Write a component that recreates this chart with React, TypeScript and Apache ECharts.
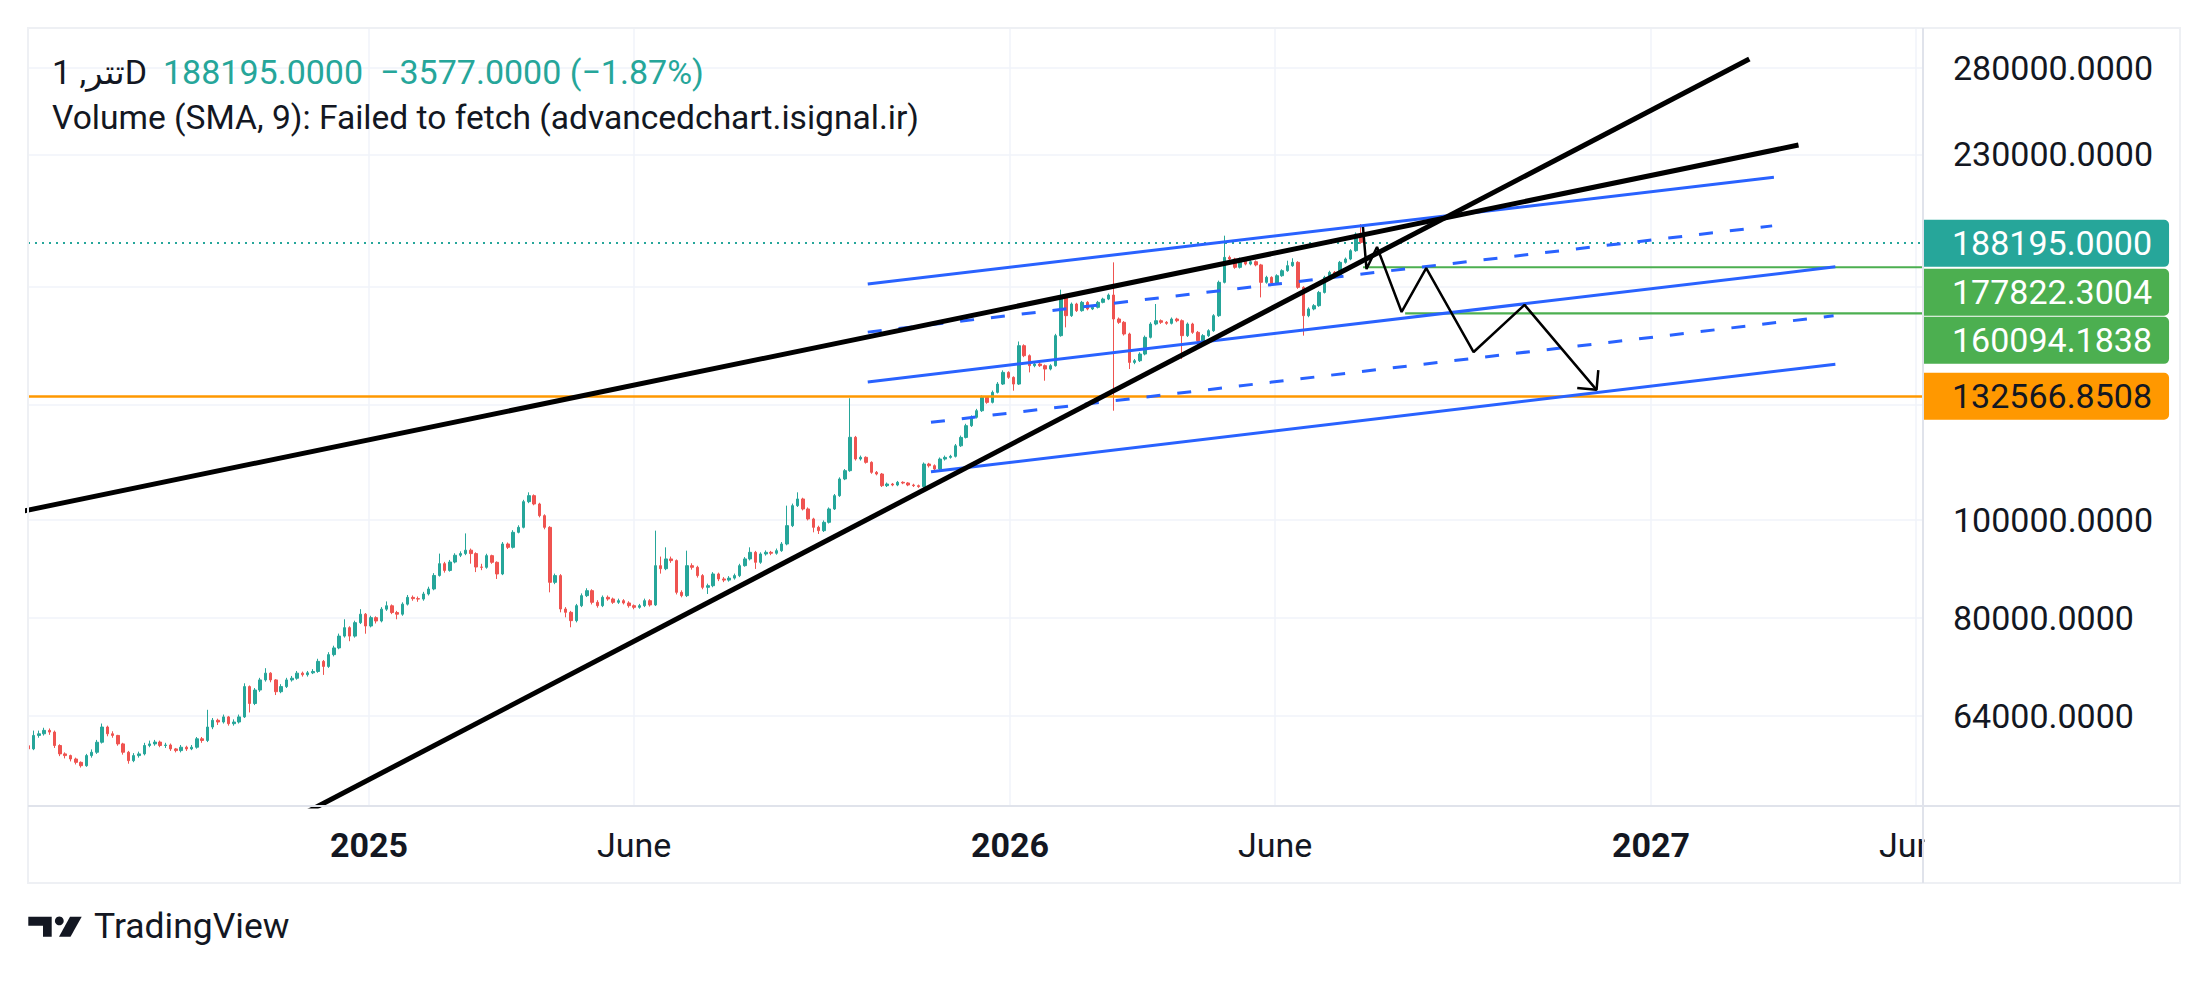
import React, { useEffect, useRef } from "react";
import * as echarts from "echarts";

const DAY = 86400000;
const FONT = "Roboto, 'Noto Sans', 'DejaVu Sans', sans-serif";
const INK = "#131722";
const UP = "#26a69a";
const DOWN = "#ef5350";
const BLUE = "#2962ff";
const GREEN = "#4caf50";
const ORANGE = "#ff9800";

// ---- candles (3-day bars) ----
const candleStart = "2024-06-21";
const candleStepDays = 3;
const firstOpen = 59800;
const closes = [
  59370, 61220, 61450, 61930, 61690, 59830, 58700, 58470, 58020, 57580,
  57140, 58470, 58920, 60280, 62400, 61450, 61220, 60050, 58920, 57800,
  58470, 58700, 59830, 60050, 60300, 59830, 59900, 59370, 59140, 59600,
  59370, 59600, 60750, 60520, 62400, 63370, 63120, 63860, 62880, 63120,
  63860, 68420, 65840, 67890, 69470, 70550, 69470, 67630, 68420, 69470,
  69740, 70550, 70300, 70600, 70820, 72470, 71640, 73590, 74720, 76760,
  78250, 76760, 79150, 80690, 78550, 80060, 79450, 81620, 82250, 80990,
  80690, 82560, 83840, 83600, 83520, 84490, 85460, 88130, 90530, 89150,
  90870, 92280, 92630, 93350, 92630, 89840, 89780, 92200, 90810, 88430,
  94680, 93960, 97230, 98340, 104260, 105700, 103710, 100990, 98340, 86760,
  88100, 81650, 81030, 79510, 82270, 84170, 85130, 82900, 82270, 83850,
  83530, 82900, 83210, 82780, 82270, 81960, 82270, 83210, 82410, 90120,
  89500, 91510, 91160, 84810, 84170, 90120, 89780, 88100, 85780, 86100,
  88430, 87430, 87200, 87600, 88100, 90120, 91510, 92900, 90810, 92550,
  92900, 92700, 93250, 94680, 98720, 103320, 104900, 102540, 100230, 98340,
  97600, 99470, 102540, 105700, 109790, 111890, 120720, 114900, 115340, 114030,
  111460, 111040, 108130, 108540, 108290, 108960, 108790, 108290, 108130, 107900,
  113590, 113160, 112310, 114890, 115330, 115600, 118410, 120690, 123960, 126340,
  128260, 132220, 130720, 133730, 136290, 139960, 138380, 136290, 148730, 145380,
  142110, 142650, 142110, 141030, 142110, 152170, 166030, 159250, 163540, 161080,
  164160, 161700, 162310, 164160, 165400, 166910, 158050, 156860, 152740, 143180,
  143730, 145930, 151590, 156260, 157440, 156860, 156500, 158050, 157440, 152170,
  156260, 153320, 150420, 152170, 153900, 159250, 171820, 181870, 181180, 177780,
  181180, 179130, 180080, 178770, 171820, 173780, 171550, 174430, 176430, 178460,
  179820, 169860, 159250, 161700, 162920, 167920, 173780, 175770, 174430, 179820,
  181180, 184660, 191772, 188195,
];
const highs = [
  60100, 61900, 61900, 62300, 62200, 61900, 60000, 58900, 58600, 58200,
  57700, 58700, 59300, 60600, 62900, 62600, 61800, 61300, 60200, 59100,
  58800, 59000, 60200, 60500, 60600, 60500, 60200, 60100, 59500, 59900,
  59800, 59900, 61000, 61000, 64900, 63700, 63600, 64200, 64000, 63500,
  64200, 68940, 68600, 68200, 69800, 71350, 70700, 69600, 68800, 69800,
  70100, 70900, 70800, 70900, 71200, 72900, 72700, 74000, 75100, 77200,
  79760, 78500, 79500, 81620, 80900, 80400, 80300, 82000, 83070, 82500,
  81300, 82900, 84300, 84200, 84000, 84900, 85900, 88600, 92630, 90900,
  91300, 92700, 93100, 96990, 93700, 92900, 90500, 92600, 92400, 91000,
  95100, 95000, 97700, 98800, 104700, 106500, 106000, 104000, 101300, 98600,
  88500, 88400, 82000, 81300, 82600, 84600, 85600, 85400, 83300, 84200,
  84200, 83800, 83600, 83500, 83100, 82500, 82600, 83600, 83500, 97600,
  92000, 93960, 92000, 91400, 85200, 93250, 90600, 90100, 88400, 86500,
  88800, 88700, 87800, 88000, 88500, 90500, 91900, 93960, 93200, 92900,
  93300, 93200, 93700, 95100, 103320, 103800, 106500, 105200, 102900, 100500,
  98700, 99900, 102900, 106100, 110200, 112300, 131950, 121100, 115800, 115600,
  114300, 111800, 111300, 108900, 108800, 109300, 109200, 109000, 108600, 108400,
  114000, 113900, 113500, 115300, 115800, 116000, 118900, 121200, 124500, 126900,
  128800, 132800, 132600, 134300, 136900, 140600, 140300, 138700, 150160, 149200,
  145800, 143100, 143200, 142500, 142600, 152800, 168970, 166500, 164100, 164000,
  164700, 164600, 162800, 164700, 165900, 167500, 179820, 158600, 157300, 153200,
  144300, 146500, 152200, 156900, 163540, 157900, 157300, 158600, 158500, 157900,
  156800, 156700, 153800, 152700, 154400, 159800, 172500, 191080, 182600, 181700,
  181800, 181700, 180700, 180600, 179200, 174400, 174200, 175000, 177000, 180500,
  181500, 180300, 170300, 162300, 163500, 168500, 174400, 176400, 176300, 180400,
  181800, 185300, 192500, 196220,
];
const lows = [
  59100, 59200, 60900, 61200, 61300, 59500, 58400, 58100, 57700, 57300,
  56900, 57000, 58200, 58700, 60100, 61100, 60900, 59800, 58600, 57400,
  57600, 58200, 58500, 59600, 59800, 59600, 59500, 59100, 58900, 58900,
  59100, 59200, 59400, 60200, 60300, 62100, 62700, 62900, 62600, 62600,
  62900, 63700, 64510, 65600, 67600, 69200, 69100, 67120, 67400, 68200,
  69200, 69500, 70000, 70000, 70400, 70600, 70270, 71400, 73300, 74500,
  76500, 75870, 76500, 78900, 77180, 78300, 79000, 79200, 81300, 80700,
  79760, 80400, 82300, 83200, 83000, 83200, 84200, 85200, 87900, 88700,
  88900, 90600, 91900, 92300, 90530, 88810, 89200, 89500, 90500, 87430,
  88200, 93600, 93700, 97000, 98100, 103900, 103400, 100600, 97900, 84810,
  86400, 81030, 80120, 78320, 79200, 82000, 83900, 82500, 81900, 82000,
  83200, 82600, 82600, 82500, 81900, 81600, 81700, 82000, 82100, 82200,
  88500, 89200, 90700, 84400, 83850, 83900, 89300, 87700, 85400, 84490,
  85800, 87000, 86800, 86900, 87300, 87800, 89900, 91200, 89450, 90500,
  92200, 92300, 92400, 93000, 94400, 98400, 103000, 102200, 99900, 97230,
  96860, 97300, 99200, 102300, 105400, 109500, 111600, 114500, 114500, 113700,
  111100, 110700, 107800, 107800, 108000, 108000, 108500, 108000, 107800, 107600,
  107600, 112700, 111900, 112000, 114500, 115000, 115300, 118100, 120400, 123600,
  126000, 127900, 130300, 130400, 133400, 136000, 137900, 134240, 136000, 144900,
  139960, 141600, 141700, 137330, 140600, 141800, 151800, 155070, 158800, 160600,
  160700, 161200, 161300, 161900, 163800, 165000, 128260, 156300, 152200, 141030,
  142600, 143300, 145500, 151200, 155800, 156300, 156000, 156100, 156900, 144270,
  151700, 152800, 148730, 150000, 151700, 153500, 158800, 171400, 180500, 177200,
  177300, 178600, 178600, 178200, 166030, 171300, 171000, 171100, 174000, 176000,
  178000, 169300, 152170, 158700, 161200, 162500, 167500, 173300, 173900, 174000,
  179300, 180700, 184200, 187600,
];

// ---- axes ----
const yRange = [52130, 306650];
const yTickValues = [64000, 80000, 100000, 130000, 170000, 230000, 280000];
const yLabelValues = [64000, 80000, 100000, 230000, 280000];
const xRange = ["2024-06-20T19:12:00Z", "2027-06-04T21:36:00Z"];
const xTickDates = ["2025-01-01", "2025-06-01", "2026-01-01", "2026-06-01", "2027-01-01", "2027-06-01"];
const monthNames = ["Jan", "Feb", "Mar", "Apr", "May", "June", "July", "Aug", "Sep", "Oct", "Nov", "Dec"];

// ---- texts ----
const symbolName = "تتر, 1D";
const volumeText = "Volume (SMA, 9): Failed to fetch (advancedchart.isignal.ir)";
const brandText = "TradingView";

// ---- price tags / horizontal levels ----
const resistanceLevel = 177822.3004;
const supportLevel = 160094.1838;
const baseLevel = 132566.8508;
const resistanceStart = "2026-07-21";
const supportStart = "2026-08-14";

// ---- drawings (date, price) ----
const trendA = [["2024-06-05", 100960], ["2027-03-26", 234900]];
const trendB = [["2024-11-22", 50930], ["2027-02-26", 285800]];
const channelTop = [["2025-10-12", 171200], ["2027-03-12", 218300]];
const channelUpperMid = [["2025-10-12", 153400], ["2027-03-11", 195400]];
const channelMiddle = [["2025-10-12", 136950], ["2027-04-16", 178000]];
const channelLowerMid = [["2025-11-17", 124900], ["2027-04-15", 159200]];
const channelBottom = [["2025-11-17", 111600], ["2027-04-16", 142600]];
const projection = [
  ["2026-07-21", 194900], ["2026-07-23", 177100], ["2026-07-29", 186200],
  ["2026-08-12", 160600], ["2026-08-26", 177500], ["2026-09-22", 146600],
  ["2026-10-21", 163200], ["2026-12-01", 134500],
];
const arrowHead = [["2026-11-20", 135100], ["2026-12-01", 134500], ["2026-12-02", 140700]];

const lg = (p: number) => Math.log10(p);
const toLog = (pts: (string | number)[][]) =>
  pts.map(([d, p]) => [Date.parse(d as string), lg(p as number)]);

function buildOption() {
  const t0 = Date.parse(candleStart);
  const candleData = closes.map((c, i) => {
    const o = i === 0 ? firstOpen : closes[i - 1];
    return [t0 + i * candleStepDays * DAY, lg(o), lg(c), lg(lows[i]), lg(highs[i])];
  });
  const last = closes[closes.length - 1];
  const prev = closes[closes.length - 2];
  const change = last - prev;
  const sign = change < 0 ? "\u2212" : "+";
  const xMax = Date.parse(xRange[1]);

  const tag = (bg: string, fg: string, text: string, dy: number) => ({
    show: true,
    position: "end",
    distance: 0,
    formatter: () => text,
    color: fg,
    fontSize: 34,
    fontFamily: FONT,
    backgroundColor: bg,
    padding: [0, 17, 0, 29],
    lineHeight: 47,
    borderRadius: [0, 5, 5, 0],
    offset: [0, dy],
    opacity: 1,
  });

  const seg = (name: string, pts: any, color: string, width: number, type: any = "solid", z = 5) => ({
    name,
    type: "line",
    data: toLog(pts),
    symbol: "none",
    silent: true,
    z,
    lineStyle: { color, width, type, cap: "butt" },
  });

  return {
    animation: false,
    backgroundColor: "#ffffff",
    grid: { left: 28, top: 28, width: 1895, height: 778, show: false, containLabel: false, outerBoundsMode: "none" },
    xAxis: {
      type: "value",
      min: Date.parse(xRange[0]),
      max: xMax,
      axisLine: { show: false },
      axisTick: { show: false, customValues: xTickDates.map((d) => Date.parse(d)) },
      splitLine: { show: true, lineStyle: { color: "#f0f3fa", width: 1.5 } },
      axisLabel: {
        customValues: xTickDates.map((d) => Date.parse(d)),
        margin: 22,
        formatter: (v: number) => {
          const d = new Date(v);
          return d.getUTCMonth() === 0 ? `{y|${d.getUTCFullYear()}}` : `{m|${monthNames[d.getUTCMonth()]}}`;
        },
        rich: {
          y: { fontSize: 34, fontWeight: "bold", color: INK, fontFamily: FONT },
          m: { fontSize: 34, color: INK, fontFamily: FONT },
        },
      },
    },
    yAxis: {
      type: "value",
      position: "right",
      min: lg(yRange[0]),
      max: lg(yRange[1]),
      axisLine: { show: false },
      axisTick: { show: false, customValues: yTickValues.map((v) => lg(v)) },
      splitLine: { show: true, lineStyle: { color: "#f0f3fa", width: 1.5 } },
      axisLabel: {
        customValues: yLabelValues.map((v) => lg(v)),
        formatter: (v: number) => Math.round(Math.pow(10, v)).toFixed(4),
        margin: 30,
        color: INK,
        fontSize: 34,
        fontFamily: FONT,
      },
    },
    series: [
      {
        name: "price",
        type: "candlestick",
        data: candleData,
        encode: { x: 0, y: [1, 2, 3, 4] },
        barWidth: 3,
        clip: false,
        z: 2,
        itemStyle: { color: UP, color0: DOWN, borderColor: UP, borderColor0: DOWN, borderWidth: 1 },
        markLine: {
          silent: true,
          symbol: ["none", "none"],
          precision: 10,
          data: [
            { yAxis: lg(baseLevel), lineStyle: { color: ORANGE, width: 2.5, type: "solid" }, label: tag(ORANGE, INK, baseLevel.toFixed(4), 0) },
            { yAxis: lg(supportLevel), lineStyle: { color: "rgba(255,255,255,0)", width: 1, type: "solid" }, label: tag(GREEN, "#ffffff", supportLevel.toFixed(4), 27) },
            { yAxis: lg(resistanceLevel), lineStyle: { color: "rgba(255,255,255,0)", width: 1, type: "solid" }, label: tag(GREEN, "#ffffff", resistanceLevel.toFixed(4), 25) },
            { yAxis: lg(last), lineStyle: { color: UP, width: 2, type: [2, 5] }, label: tag(UP, "#ffffff", last.toFixed(4), 1) },
          ],
        },
      },
      seg("resistance", [[resistanceStart, resistanceLevel], [xRange[1], resistanceLevel]], GREEN, 2.2, "solid", 4),
      seg("support", [[supportStart, supportLevel], [xRange[1], supportLevel]], GREEN, 2.2, "solid", 4),
      seg("channelTop", channelTop, BLUE, 3),
      seg("channelUpperMid", channelUpperMid, BLUE, 3, [14, 17]),
      seg("channelMiddle", channelMiddle, BLUE, 3),
      seg("channelLowerMid", channelLowerMid, BLUE, 3, [14, 17]),
      seg("channelBottom", channelBottom, BLUE, 3),
      seg("trendA", trendA, "#000000", 5, "solid", 6),
      seg("trendB", trendB, "#000000", 5, "solid", 6),
      seg("projection", projection, "#000000", 2.5, "solid", 7),
      seg("arrowHead", arrowHead, "#000000", 2.5, "solid", 7),
    ],
    graphic: [
      { type: "rect", z: 100, silent: true, shape: { x: 1924.5, y: 807.5, width: 254.5, height: 74.5 }, style: { fill: "#ffffff" } },
      { type: "rect", z: 101, silent: true, shape: { x: 28, y: 28, width: 2152, height: 855 }, style: { fill: "none", stroke: "#eef0f4", lineWidth: 2 } },
      { type: "line", z: 102, silent: true, shape: { x1: 1923, y1: 28, x2: 1923, y2: 883 }, style: { stroke: "#e0e3eb", lineWidth: 2 } },
      { type: "line", z: 102, silent: true, shape: { x1: 28, y1: 806, x2: 2180, y2: 806 }, style: { stroke: "#e0e3eb", lineWidth: 2 } },
      {
        type: "text",
        z: 110,
        silent: true,
        x: 52,
        y: 72,
        style: {
          text: `{s|${symbolName}}{v|${last.toFixed(4)}}{c|${sign}${Math.abs(change).toFixed(4)} (${sign}${Math.abs((change / prev) * 100).toFixed(2)}%)}`,
          verticalAlign: "middle",
          rich: {
            s: { fontSize: 34, fontFamily: FONT, fill: INK },
            v: { fontSize: 34, fontFamily: FONT, fill: UP, padding: [0, 0, 0, 16] },
            c: { fontSize: 34, fontFamily: FONT, fill: UP, padding: [0, 0, 0, 17] },
          },
        },
      },
      {
        type: "text",
        z: 110,
        silent: true,
        x: 52,
        y: 117,
        style: { text: volumeText, fontSize: 33.6, fontFamily: FONT, fill: INK, verticalAlign: "middle" },
      },
      {
        type: "polygon",
        z: 110,
        silent: true,
        shape: { points: [[28.3, 916.7], [51.7, 916.7], [51.7, 936.7], [43, 936.7], [43, 925.7], [28.3, 925.7]] },
        style: { fill: INK },
      },
      { type: "circle", z: 110, silent: true, shape: { cx: 59.3, cy: 920.9, r: 4.4 }, style: { fill: INK } },
      {
        type: "polygon",
        z: 110,
        silent: true,
        shape: { points: [[70, 916.7], [81.7, 916.7], [70.5, 936.7], [59, 936.7]] },
        style: { fill: INK },
      },
      {
        type: "text",
        z: 110,
        silent: true,
        x: 94,
        y: 926,
        style: { text: brandText, fontSize: 35.5, fontFamily: FONT, fill: INK, verticalAlign: "middle" },
      },
    ],
  };
}

export default function App() {
  const ref = useRef<HTMLDivElement>(null);
  useEffect(() => {
    if (!ref.current) return;
    const chart = echarts.init(ref.current, undefined, { renderer: "svg" });
    chart.setOption(buildOption() as any);
    return () => chart.dispose();
  }, []);
  return (
    <div
      ref={ref}
      style={{ position: "fixed", left: 0, top: 0, width: 2209, height: 981, background: "#ffffff" }}
    />
  );
}
